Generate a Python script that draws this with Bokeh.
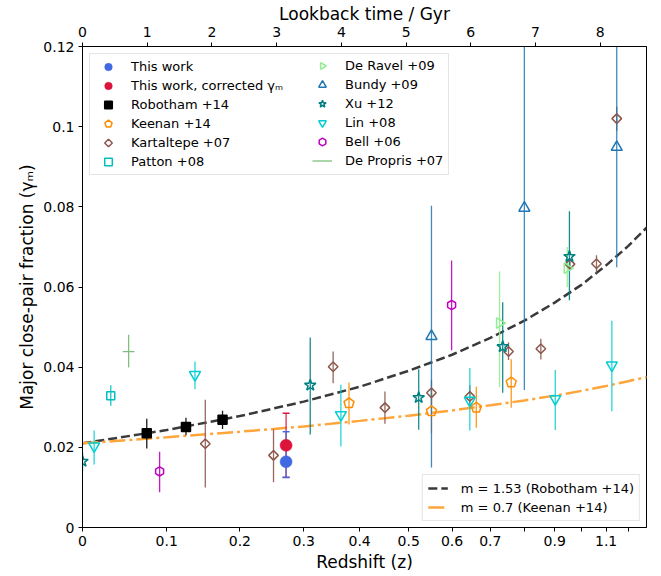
import numpy as np
from bokeh.plotting import figure
from bokeh.models import (Range1d, LinearAxis, FixedTicker, CustomJSTickFormatter,
                          Legend, LegendItem, ColumnDataSource)
from bokeh.embed import file_html
from bokeh.resources import INLINE

FONT = "DejaVu Sans"

# ---------------- data (redshift z, fraction, lower, upper) ----------------
this_z = [0.271]; this_y = [0.0164]; this_lo = [0.0125]; this_hi = [0.0239]
corr_z = [0.271]; corr_y = [0.0205]; corr_lo = [0.0125]; corr_hi = [0.0285]

rob_z = [0.075, 0.125, 0.175]
rob_y = [0.0235, 0.0251, 0.0269]
rob_lo = [0.0197, 0.0230, 0.0246]
rob_hi = [0.0271, 0.0274, 0.0291]

kee_z = [0.38, 0.551, 0.662, 0.76]
kee_y = [0.0310, 0.0290, 0.0299, 0.0362]
kee_lo = [0.0257, 0.0235, 0.0249, 0.0299]
kee_hi = [0.0362, 0.0345, 0.0351, 0.0420]

kar_z = [0.151, 0.251, 0.351, 0.45, 0.551, 0.645, 0.752, 0.853, 0.955, 1.059, 1.147]
kar_y = [0.0209, 0.0180, 0.0401, 0.0299, 0.0336, 0.0327, 0.0439, 0.0446, 0.0657, 0.0658, 0.1020]
kar_lo = [0.0100, 0.0113, 0.0360, 0.0259, 0.0301, 0.0300, 0.0418, 0.0419, 0.0642, 0.0634, 0.0990]
kar_hi = [0.0319, 0.0245, 0.0439, 0.0339, 0.0368, 0.0355, 0.0462, 0.0471, 0.0672, 0.0679, 0.1050]

pat_z = [0.032]; pat_y = [0.0329]; pat_lo = [0.0304]; pat_hi = [0.0355]

rav_z = [0.726, 0.945]
rav_y = [0.0510, 0.0647]
rav_lo = [0.0350, 0.0600]
rav_hi = [0.0639, 0.0700]

bun_z = [0.551, 0.80, 1.147]
bun_y = [0.0477, 0.0797, 0.0949]
bun_lo = [0.0150, 0.0343, 0.0649]
bun_hi = [0.0803, 0.1260, 0.1250]

xu_z = [0.0, 0.311, 0.522, 0.735, 0.953]
xu_y = [0.0165, 0.0355, 0.0324, 0.0451, 0.0676]
xu_lo = [0.0140, 0.0232, 0.0244, 0.0336, 0.0567]
xu_hi = [0.0188, 0.0474, 0.0395, 0.0562, 0.0789]

lin_z = [0.013, 0.137, 0.365, 0.645, 0.902, 1.125]
lin_y = [0.0203, 0.0381, 0.0281, 0.0317, 0.0321, 0.0405]
lin_lo = [0.0157, 0.0345, 0.0202, 0.0242, 0.0243, 0.0290]
lin_hi = [0.0242, 0.0414, 0.0356, 0.0398, 0.0393, 0.0516]

bell_z = [0.091, 0.599]
bell_y = [0.0140, 0.0555]
bell_lo = [0.0088, 0.0442]
bell_hi = [0.0189, 0.0666]

dep_z = [0.053]; dep_y = [0.0439]; dep_lo = [0.0399]; dep_hi = [0.0481]
dep_zlo = [0.046]; dep_zhi = [0.060]

# model curves
model_z = [0.0, 0.1, 0.2, 0.3, 0.4, 0.5, 0.6, 0.7, 0.8, 0.9, 1.0, 1.1, 1.2, 1.31]
rob_model = [0.0210, 0.0243, 0.0278, 0.0314, 0.0351, 0.0391, 0.0431, 0.0473,
             0.0516, 0.0561, 0.0606, 0.0654, 0.0702, 0.0756]
kee_model = [0.0210, 0.0225, 0.0239, 0.0252, 0.0266, 0.0279, 0.0292, 0.0305,
             0.0317, 0.0329, 0.0341, 0.0353, 0.0365, 0.0377]

# axis ticks
z_ticks = [0.0, 0.1, 0.2, 0.3, 0.4, 0.5, 0.6, 0.7, 0.8, 0.9, 1.0, 1.1, 1.2]
z_tick_labels = ["0", "0.1", "0.2", "0.3", "0.4", "0.5", "0.6", "0.7", "", "0.9", "", "1.1", ""]
t_ticks = [0, 1, 2, 3, 4, 5, 6, 7, 8]
y_ticks = [0.0, 0.02, 0.04, 0.06, 0.08, 0.10, 0.12]
y_tick_labels = ["0", "0.02", "0.04", "0.06", "0.08", "0.1", "0.12"]


# ---------------- cosmology: redshift -> lookback time (axis transform) ----------------
def lookback(z):
    zz = np.linspace(0.0, z, 2001)
    f = 1.0 / ((1.0 + zz) * np.sqrt(0.3 * (1.0 + zz) ** 3 + 0.7))
    return 977.8 / 70.0 * float(np.trapezoid(f, zz))


def T(zs):
    return [lookback(z) for z in zs]


p = figure(width=661, height=576, output_backend="svg", toolbar_location=None,
           x_range=Range1d(0, 8.715), y_range=Range1d(0, 0.12),
           min_border_left=82, min_border_right=15, min_border_top=45, min_border_bottom=49)
p.xgrid.visible = False
p.ygrid.visible = False
p.outline_line_color = "black"
p.outline_line_width = 1
p.background_fill_color = "white"
p.border_fill_color = "white"


def style_axis(ax):
    ax.axis_line_color = "black"
    ax.major_tick_line_color = "black"
    ax.major_tick_in = 0
    ax.major_tick_out = 4
    ax.minor_tick_line_color = None
    ax.major_label_text_font = FONT
    ax.major_label_text_font_size = "14px"
    ax.major_label_text_color = "black"
    ax.axis_label_text_font = FONT
    ax.axis_label_text_font_size = "17px"
    ax.axis_label_text_font_style = "normal"
    ax.axis_label_text_color = "black"


xb = p.xaxis[0]
xb.ticker = FixedTicker(ticks=T(z_ticks))
xb.formatter = CustomJSTickFormatter(args=dict(labels=z_tick_labels),
                                     code="return labels[index] ?? '';")
xb.axis_label = "Redshift (z)"
style_axis(xb)
xb.major_label_standoff = 4
xb.axis_label_standoff = 3

yl = p.yaxis[0]
yl.ticker = FixedTicker(ticks=y_ticks)
yl.formatter = CustomJSTickFormatter(args=dict(labels=y_tick_labels),
                                     code="return labels[index] ?? '';")
yl.axis_label = "Major close-pair fraction (γₘ)"
style_axis(yl)
yl.major_label_standoff = 4
yl.axis_label_standoff = 3

xt = LinearAxis(ticker=FixedTicker(ticks=t_ticks), axis_label="Lookback time / Gyr")
style_axis(xt)
xt.major_label_standoff = 6
xt.axis_label_standoff = 0
p.add_layout(xt, "above")

# ---------------- model curves ----------------
r_rm = p.line(T(model_z), rob_model, line_color="#3a3a3a", line_width=2.5, line_dash="9 4")
r_km = p.line(T(model_z), kee_model, line_color="#ffa53a", line_width=2.5, line_dash="16 4 3 4")


# ---------------- helpers ----------------
def errbars(z, lo, hi, color, alpha=0.9, width=1.3, caps=False):
    src = ColumnDataSource(dict(x=T(z), lo=lo, hi=hi))
    p.segment(x0="x", y0="lo", x1="x", y1="hi", source=src,
              line_color=color, line_width=width, line_alpha=alpha)
    if caps:
        p.scatter("x", "lo", source=src, marker="dash", size=7, line_color=color, line_width=1.5)
        p.scatter("x", "hi", source=src, marker="dash", size=7, line_color=color, line_width=1.5)


def markers(z, y, marker, color, size, filled=False, angle=0.0, lw=1.5, alpha=1.0):
    src = ColumnDataSource(dict(x=T(z), y=y))
    return p.scatter("x", "y", source=src, marker=marker, size=size, angle=angle,
                     line_color=color, line_width=lw, line_alpha=alpha,
                     fill_color=color if filled else "white",
                     fill_alpha=alpha if filled else 0.0)


def polygons(z, y, n, radius, angle, color, fallback, fsize, fangle=0.0):
    src = ColumnDataSource(dict(x=T(z), y=y))
    try:
        return p.ngon(x="x", y="y", radius=radius, radius_units="screen", n=n, angle=angle,
                      source=src, line_color=color, line_width=1.5,
                      fill_color="white", fill_alpha=0.0)
    except Exception:
        return markers(z, y, fallback, color, fsize, angle=fangle)


# error bars
errbars(kar_z, kar_lo, kar_hi, "#8c564b")
errbars(kee_z, kee_lo, kee_hi, "#ff8c00")
errbars(pat_z, pat_lo, pat_hi, "#00bfbf")
errbars(rav_z, rav_lo, rav_hi, "#90ee90")
errbars(bun_z, bun_lo, bun_hi, "#1f77b4", alpha=0.85)
errbars(xu_z, xu_lo, xu_hi, "#008080")
errbars(lin_z, lin_lo, lin_hi, "#00ced1", alpha=0.85)
errbars(bell_z, bell_lo, bell_hi, "#bf00bf")
errbars(rob_z, rob_lo, rob_hi, "black")
errbars(corr_z, corr_lo, corr_hi, "#dc143c", caps=True)
errbars(this_z, this_lo, this_hi, "#4169e1", caps=True)

# De Propris: cross of error bars
dsrc = ColumnDataSource(dict(x=T(dep_z), x0=T(dep_zlo), x1=T(dep_zhi), y=dep_y, lo=dep_lo, hi=dep_hi))
p.segment(x0="x", y0="lo", x1="x", y1="hi", source=dsrc, line_color="#7cc07c", line_width=1.3)
r_dep = p.segment(x0="x0", y0="y", x1="x1", y1="y", source=dsrc, line_color="#7cc07c", line_width=1.3)

# markers
r_kar = polygons(kar_z, kar_y, 4, 4.8, 0.0, "#8c564b", "diamond", 11)
r_kee = polygons(kee_z, kee_y, 5, 5.3, 0.0, "#ff8c00", "hex", 10)
r_pat = markers(pat_z, pat_y, "square", "#00bfbf", 8)
r_rav = polygons(rav_z, rav_y, 3, 6.0, -np.pi / 2, "#90ee90", "triangle", 11, -np.pi / 2)
r_bun = markers(bun_z, bun_y, "triangle", "#1f77b4", 11)
r_xu = markers(xu_z, xu_y, "star", "#008080", 12)
r_lin = markers(lin_z, lin_y, "inverted_triangle", "#00ced1", 11)
r_bell = polygons(bell_z, bell_y, 6, 4.6, 0.0, "#bf00bf", "hex", 9, np.pi / 2)
r_rob = markers(rob_z, rob_y, "square", "black", 9, filled=True)
r_corr = markers(corr_z, corr_y, "circle", "#dc143c", 12, filled=True, lw=0.5)
r_this = markers(this_z, this_y, "circle", "#4169e1", 12, filled=True, lw=0.5)


def style_legend(lg, big=True):
    lg.label_text_font = FONT
    lg.label_text_font_size = "13px"
    lg.label_text_color = "black"
    if big:
        lg.label_height = 19
        lg.glyph_height = 19
        lg.spacing = 0
        lg.padding = 3
    else:
        lg.label_height = 16
        lg.glyph_height = 16
        lg.spacing = 3
        lg.padding = 4


legA = Legend(items=[
    LegendItem(label="This work", renderers=[r_this]),
    LegendItem(label="This work, corrected γₘ", renderers=[r_corr]),
    LegendItem(label="Robotham +14", renderers=[r_rob]),
    LegendItem(label="Keenan +14", renderers=[r_kee]),
    LegendItem(label="Kartaltepe +07", renderers=[r_kar]),
    LegendItem(label="Patton +08", renderers=[r_pat]),
], location="top_left")
style_legend(legA)
legA.margin = 7
legA.glyph_width = 30
legA.label_standoff = 8
legA.label_width = 314
legA.border_line_color = "#cccccc"
legA.background_fill_alpha = 0.85
p.add_layout(legA)

legB = Legend(items=[
    LegendItem(label="De Ravel +09", renderers=[r_rav]),
    LegendItem(label="Bundy +09", renderers=[r_bun]),
    LegendItem(label="Xu +12", renderers=[r_xu]),
    LegendItem(label="Lin +08", renderers=[r_lin]),
    LegendItem(label="Bell +06", renderers=[r_bell]),
    LegendItem(label="De Propris +07", renderers=[r_dep]),
], location=(227, 354))
style_legend(legB)
legB.margin = 0
legB.glyph_width = 20
legB.label_standoff = 13
legB.border_line_alpha = 0
legB.background_fill_alpha = 0
p.add_layout(legB)

legC = Legend(items=[
    LegendItem(label="m = 1.53 (Robotham +14)", renderers=[r_rm]),
    LegendItem(label="m = 0.7 (Keenan +14)", renderers=[r_km]),
], location="bottom_right")
style_legend(legC, big=False)
legC.margin = 6
legC.padding = 5
legC.glyph_width = 20
legC.label_standoff = 13
legC.border_line_color = "#cccccc"
legC.background_fill_alpha = 0.85
p.add_layout(legC)

open("out.html", "w").write(file_html(p, INLINE))
